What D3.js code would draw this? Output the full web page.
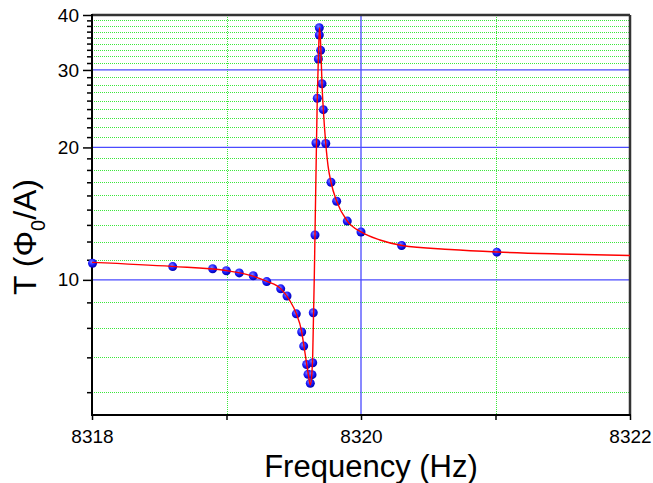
<!DOCTYPE html>
<html><head><meta charset="utf-8">
<script src="https://cdn.jsdelivr.net/npm/d3@7"></script>
<style>body{margin:0;background:#fff;} svg{display:block;font-family:Arial,"Liberation Sans",sans-serif;}</style>
</head><body>
<svg id="c" width="653" height="483"></svg>
<script>
// measured data points (frequency in Hz, T in Phi0/A)
const freq = [8318.004,8318.600,8318.897,8318.999,8319.095,8319.199,8319.299,8319.403,8319.450,8319.519,
  8319.559,8319.574,8319.596,8319.606,8319.623,8319.636,8319.641,8319.645,8319.658,8319.665,
  8319.675,8319.683,8319.690,8319.690,8319.700,8319.710,8319.720,8319.738,8319.777,8319.819,
  8319.898,8320.000,8320.302,8321.010];
const tval = [10.91,10.72,10.60,10.49,10.37,10.22,9.91,9.54,9.19,8.37,
  7.61,7.07,6.42,6.10,5.82,6.09,6.48,8.42,12.65,20.47,
  25.87,31.77,36.03,37.42,33.25,27.92,24.37,20.42,16.67,15.09,
  13.60,12.85,11.97,11.56];
// fitted curve
const fitFreq = [8318.000,8318.595,8318.996,8319.197,8319.301,8319.405,8319.472,8319.517,8319.558,8319.576,
  8319.595,8319.610,8319.623,8319.634,8319.641,8319.647,8319.653,8319.658,8319.667,8319.675,
  8319.683,8319.689,8319.692,8319.697,8319.703,8319.710,8319.720,8319.738,8319.755,8319.777,
  8319.819,8319.898,8320.000,8320.141,8320.305,8320.662,8321.011,8321.480,8322.000];
const fitT = [10.96,10.73,10.50,10.20,9.92,9.54,8.96,8.41,7.65,7.07,
  6.47,6.05,5.77,6.08,6.75,8.32,10.26,12.71,18.73,25.91,
  31.77,36.19,37.38,36.03,32.44,27.87,24.33,20.42,18.16,16.67,
  15.09,13.60,12.85,12.32,11.97,11.72,11.57,11.45,11.36];
const xMajor = [8318, 8320, 8322];
const xMinor = [8319, 8321];
const yMajor = [10, 20, 30, 40];

const svg = d3.select("#c");
const L = 92, R = 630, T = 15, B = 415;
const x = d3.scaleLinear().domain([8318, 8322]).range([L, R]);
const y = d3.scaleLog().domain([4.93, 40]).range([B, T]);
const px = v => Math.round(v) + 0.5;

// minor y values: 8 minor ticks between majors (step 10/9)
const yMinor = [];
for (let m = 0; m < 40; m += 10) {
  for (let k = 1; k <= 8; k++) {
    const v = m + k * 10 / 9;
    if (v >= 4.93 && v < 40) yMinor.push(v);
  }
}
const g = svg.append("g");
// minor grid (dotted green)
g.selectAll(".hmin").data(yMinor).join("line")
  .attr("x1", L).attr("x2", R).attr("y1", d => px(y(d))).attr("y2", d => px(y(d)))
  .attr("stroke", "#3be83b").attr("stroke-width", 1).attr("stroke-dasharray", "1,1");
g.selectAll(".vmin").data(xMinor).join("line")
  .attr("y1", T).attr("y2", B).attr("x1", d => px(x(d))).attr("x2", d => px(x(d)))
  .attr("stroke", "#3be83b").attr("stroke-width", 1).attr("stroke-dasharray", "1,1");
// major grid
g.selectAll(".hmaj").data(yMajor.filter(v => v < 40)).join("line")
  .attr("x1", L).attr("x2", R).attr("y1", d => y(d)).attr("y2", d => y(d))
  .attr("stroke", "#4a4aff").attr("stroke-width", 1.3);
g.selectAll(".vmaj").data([8320]).join("line")
  .attr("y1", T).attr("y2", B).attr("x1", d => x(d)).attr("x2", d => x(d))
  .attr("stroke", "#4a4aff").attr("stroke-width", 1.3);

// axes
const yAxisMajor = d3.axisLeft(y).tickValues(yMajor).tickSize(9).tickPadding(4).tickFormat(d3.format("d"));
const yAxisMinor = d3.axisLeft(y).tickValues(yMinor).tickSize(5).tickFormat("");
const ya1 = svg.append("g").attr("transform", `translate(${L},0)`).call(yAxisMinor);
const ya = svg.append("g").attr("transform", `translate(${L},0)`).call(yAxisMajor);
const xAxisMajor = d3.axisBottom(x).tickValues(xMajor).tickSize(5).tickPadding(10).tickFormat(d3.format("d"));
const xAxisMinor = d3.axisBottom(x).tickValues(xMinor).tickSize(5).tickFormat("");
const xa1 = svg.append("g").attr("transform", `translate(0,${B})`).call(xAxisMinor);
const xa = svg.append("g").attr("transform", `translate(0,${B})`).call(xAxisMajor);
[ya, ya1, xa, xa1].forEach(a => {
  a.select(".domain").remove();
  a.selectAll(".tick line").attr("stroke", "#000").attr("stroke-width", 1.5);
  a.selectAll("text").attr("font-size", 19).attr("fill", "#000").attr("font-family", "Arial, Liberation Sans, sans-serif");
});
// frame
svg.append("line").attr("x1", L).attr("x2", R).attr("y1", T).attr("y2", T).attr("stroke", "#333").attr("stroke-width", 2.5);
svg.append("line").attr("x1", R).attr("x2", R).attr("y1", T).attr("y2", B).attr("stroke", "#333").attr("stroke-width", 2.5);
svg.append("line").attr("x1", L).attr("x2", L).attr("y1", T - 1).attr("y2", B + 1).attr("stroke", "#000").attr("stroke-width", 2);
svg.append("line").attr("x1", L - 1).attr("x2", R + 1).attr("y1", B).attr("y2", B).attr("stroke", "#000").attr("stroke-width", 2);

// points
const defs = svg.append("defs");
const rg = defs.append("radialGradient").attr("id", "ball").attr("cx", "40%").attr("cy", "35%").attr("r", "65%");
rg.append("stop").attr("offset", "0%").attr("stop-color", "#7d7dff");
rg.append("stop").attr("offset", "55%").attr("stop-color", "#1a1aff");
rg.append("stop").attr("offset", "100%").attr("stop-color", "#0000b0");
const pts = freq.map((f, i) => ({f, t: tval[i]}));
svg.append("g").selectAll("circle").data(pts).join("circle")
  .attr("cx", d => x(d.f)).attr("cy", d => y(d.t)).attr("r", 4.5)
  .attr("fill", "url(#ball)");

// fitted curve
const fit = fitFreq.map((f, i) => ({f, t: fitT[i]}));
svg.append("path").datum(fit)
  .attr("d", d3.line().x(d => x(d.f)).y(d => y(d.t)).curve(d3.curveMonotoneX))
  .attr("fill", "none").attr("stroke", "#ff0000").attr("stroke-width", 1.4);

// titles
svg.append("text").attr("x", 371).attr("y", 477).attr("text-anchor", "middle")
  .attr("font-size", 31).attr("fill", "#000").text("Frequency (Hz)");
const yl = svg.append("text").attr("transform", "translate(36,237) rotate(-90)")
  .attr("text-anchor", "middle").attr("font-size", 32).attr("fill", "#000");
yl.append("tspan").text("T (\u03A6");
yl.append("tspan").attr("font-size", 20).attr("dy", 9).text("0");
yl.append("tspan").attr("dy", -9).text("/A)");
</script>
</body></html>
